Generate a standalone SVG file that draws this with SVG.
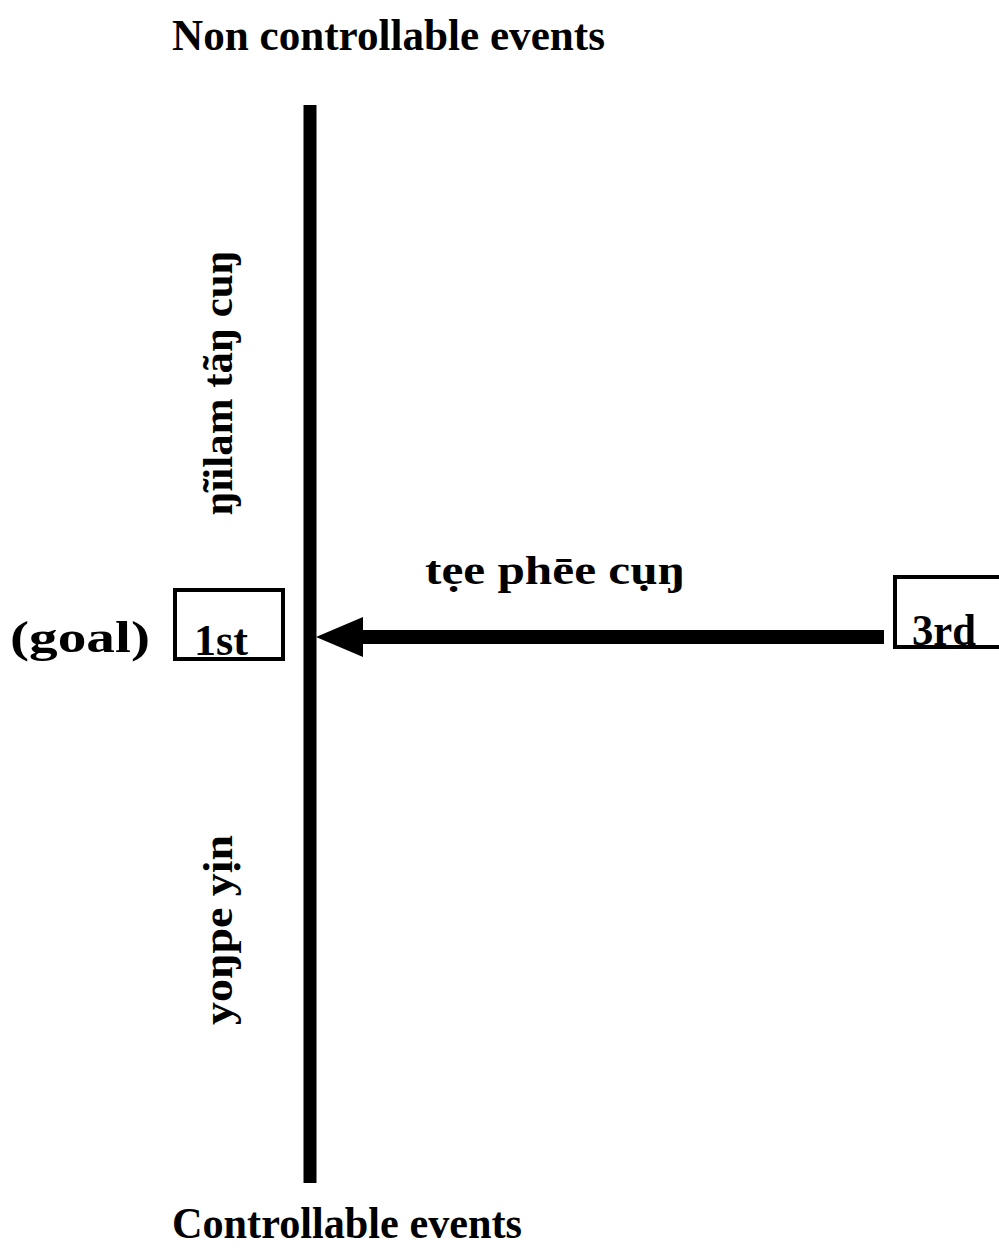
<svg xmlns="http://www.w3.org/2000/svg" width="999" height="1248" viewBox="0 0 999 1248">
<style>
  .t { font-family: "Liberation Serif", "DejaVu Serif", serif; font-weight: bold; fill: #000; }
  .box { fill: #fff; stroke: #000; stroke-width: 4; }
  .line { stroke: #000; fill: none; }
</style>
<rect width="999" height="1248" fill="#fff"/>
<text class="t" x="172" y="50" font-size="44" textLength="433" lengthAdjust="spacingAndGlyphs">Non controllable events</text>
<text class="t" x="172" y="1238" font-size="44" textLength="350" lengthAdjust="spacingAndGlyphs">Controllable events</text>
<g id="connectors">
  <line class="line" x1="310" y1="105" x2="310" y2="1183" stroke-width="13"/>
  <line class="line" x1="360" y1="637" x2="884" y2="637" stroke-width="14"/>
  <polygon points="316,637 363,617 363,657" fill="#000"/>
</g>
<text class="t" x="555" y="584" font-size="40" text-anchor="middle" textLength="260" lengthAdjust="spacingAndGlyphs">tẹe phēe cụŋ</text>
<text class="t" transform="translate(232,383) rotate(-90)" x="0" y="0" font-size="42" text-anchor="middle" textLength="265" lengthAdjust="spacingAndGlyphs">ŋĩilam tãŋ cuŋ</text>
<text class="t" transform="translate(232,930) rotate(-90)" x="0" y="0" font-size="42" text-anchor="middle" textLength="190" lengthAdjust="spacingAndGlyphs">yoŋpe yịn</text>
<g id="goal">
  <text class="t" x="10" y="652" font-size="44" textLength="140" lengthAdjust="spacingAndGlyphs">(goal)</text>
</g>
<g id="node-1st">
  <rect class="box" x="175" y="590" width="108" height="69"/>
  <text class="t" x="221" y="655" font-size="44" text-anchor="middle" textLength="54" lengthAdjust="spacingAndGlyphs">1st</text>
</g>
<g id="node-3rd">
  <rect class="box" x="895" y="577" width="110" height="70"/>
  <text class="t" x="912" y="645" font-size="44" textLength="64" lengthAdjust="spacingAndGlyphs">3rd</text>
</g>
</svg>
